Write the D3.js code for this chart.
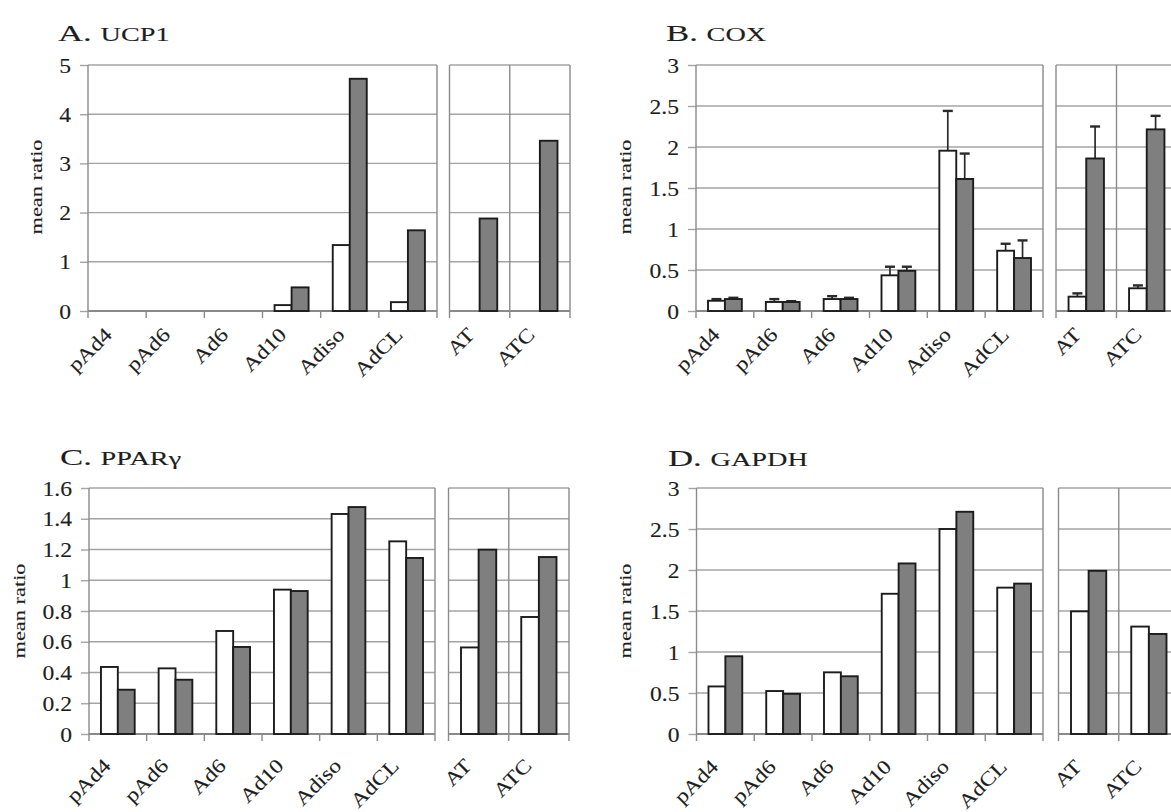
<!DOCTYPE html>
<html>
<head>
<meta charset="utf-8">
<script src="https://cdn.jsdelivr.net/npm/d3@7"></script>
<style>
  html, body { margin: 0; padding: 0; background: #fff; }
  svg { display: block; }
  text { font-family: "Liberation Serif", "Times New Roman", serif; fill: #1e1e1e; stroke: #1e1e1e; stroke-width: 0.12px; }
</style>
</head>
<body>
<svg id="chart" width="1171" height="812"></svg>
<script>
// Culture stages (left block) and tissue samples (right block)
const stageCategories = ["pAd4", "pAd6", "Ad6", "Ad10", "Adiso", "AdCL"];
const tissueCategories = ["AT", "ATC"];
const seriesKeys = ["open", "filled"];

// A. UCP1
const ucp1Open = [0, 0, 0, 0.12, 1.34, 0.18];
const ucp1Filled = [0, 0, 0, 0.48, 4.72, 1.64];
const ucp1TissueOpen = [0, 0];
const ucp1TissueFilled = [1.88, 3.46];
const ucp1Ticks = [0, 1, 2, 3, 4, 5];

// B. COX (mean with upper error)
const coxOpen = [0.125, 0.11, 0.146, 0.435, 1.955, 0.735];
const coxOpenErr = [0.02, 0.035, 0.035, 0.105, 0.485, 0.085];
const coxFilled = [0.146, 0.11, 0.146, 0.49, 1.61, 0.646];
const coxFilledErr = [0.015, 0.01, 0.015, 0.05, 0.31, 0.215];
const coxTissueOpen = [0.175, 0.277];
const coxTissueOpenErr = [0.04, 0.035];
const coxTissueFilled = [1.86, 2.215];
const coxTissueFilledErr = [0.39, 0.165];
const coxTicks = [0, 0.5, 1, 1.5, 2, 2.5, 3];

// C. PPARγ
const pparOpen = [0.436, 0.427, 0.67, 0.939, 1.431, 1.253];
const pparFilled = [0.288, 0.353, 0.566, 0.93, 1.476, 1.145];
const pparTissueOpen = [0.563, 0.761];
const pparTissueFilled = [1.199, 1.151];
const pparTicks = [0, 0.2, 0.4, 0.6, 0.8, 1, 1.2, 1.4, 1.6];

// D. GAPDH
const gapdhOpen = [0.58, 0.524, 0.752, 1.71, 2.5, 1.785];
const gapdhFilled = [0.948, 0.49, 0.704, 2.08, 2.71, 1.834];
const gapdhTissueOpen = [1.496, 1.31];
const gapdhTissueFilled = [1.99, 1.22];
const gapdhTicks = [0, 0.5, 1, 1.5, 2, 2.5, 3];

const panels = [
  { letter: "A.", gene: "UCP1", ticks: ucp1Ticks,
    open: ucp1Open, filled: ucp1Filled, tOpen: ucp1TissueOpen, tFilled: ucp1TissueFilled,
    box: { x0: 88, x1: 437, sx0: 449.5, sx1: 570, top: 65, base: 311 },
    title: { x: 58, y: 41 }, ylab: { x: 38, y: 187 }, lab: { dx: -4, dy: 25 } },
  { letter: "B.", gene: "COX", ticks: coxTicks,
    open: coxOpen, filled: coxFilled, tOpen: coxTissueOpen, tFilled: coxTissueFilled,
    openErr: coxOpenErr, filledErr: coxFilledErr, tOpenErr: coxTissueOpenErr, tFilledErr: coxTissueFilledErr,
    box: { x0: 696, x1: 1043, sx0: 1056, sx1: 1177, top: 65, base: 311 },
    title: { x: 666, y: 41 }, ylab: { x: 627, y: 187 }, lab: { dx: -4, dy: 25 } },
  { letter: "C.", gene: "PPARγ", ticks: pparTicks,
    open: pparOpen, filled: pparFilled, tOpen: pparTissueOpen, tFilled: pparTissueFilled,
    box: { x0: 89, x1: 435, sx0: 448.5, sx1: 569, top: 488, base: 734 },
    title: { x: 60, y: 465 }, ylab: { x: 21, y: 611 }, lab: { dx: -6, dy: 33 } },
  { letter: "D.", gene: "GAPDH", ticks: gapdhTicks,
    open: gapdhOpen, filled: gapdhFilled, tOpen: gapdhTissueOpen, tFilled: gapdhTissueFilled,
    box: { x0: 696.5, x1: 1043, sx0: 1058.5, sx1: 1179, top: 488, base: 734 },
    title: { x: 668, y: 466 }, ylab: { x: 627, y: 611 }, lab: { dx: -6, dy: 34 } }
];

const svg = d3.select("#chart");
const gridColor = "#a4a4a4";
const axisColor = "#8a8a8a";
const barStroke = "#1c1c1c";
const fills = { open: "#ffffff", filled: "#7f7f7f" };
// the typeface is set wide: glyphs are stretched along the writing direction
const wide = 1.18;

function drawBlock(g, cats, openVals, filledVals, openErr, filledErr, xa, xb, y, ticks, isStages, lab) {
  const x = d3.scaleBand().domain(cats).range([xa, xb]).paddingInner(0).paddingOuter(0);
  const sub = d3.scaleBand().domain(seriesKeys).range([0, x.bandwidth()]).paddingInner(0).paddingOuter(0.71);
  const ymax = ticks[ticks.length - 1];

  // horizontal gridlines
  g.append("g").selectAll("line")
    .data(ticks.filter(t => t > 0))
    .join("line")
    .attr("x1", xa).attr("x2", xb)
    .attr("y1", d => y(d)).attr("y2", d => y(d))
    .attr("stroke", gridColor).attr("stroke-width", 1.4);

  // frame sides and category boundary ticks
  const bounds = cats.map(c => x(c)).concat([xb]);
  g.append("g").selectAll("line")
    .data(bounds)
    .join("line")
    .attr("x1", d => d).attr("x2", d => d)
    .attr("y1", (d, i) => (i === 0 || i === bounds.length - 1 || !isStages) ? y(ymax) : y(0))
    .attr("y2", y(0) + 7)
    .attr("stroke", axisColor).attr("stroke-width", 1.4);

  // baseline
  g.append("line")
    .attr("x1", xa).attr("x2", xb)
    .attr("y1", y(0)).attr("y2", y(0))
    .attr("stroke", axisColor).attr("stroke-width", 1.8);

  const rows = cats.map((c, i) => [
    { cat: c, key: "open", v: openVals[i], e: openErr ? openErr[i] : null },
    { cat: c, key: "filled", v: filledVals[i], e: filledErr ? filledErr[i] : null }
  ]).flat();
  const cx = d => x(d.cat) + sub(d.key) + sub.bandwidth() / 2;

  // upper error bars
  const errRows = rows.filter(d => d.e != null);
  const eg = g.append("g").attr("stroke", "#2a2a2a");
  eg.selectAll("line.stem").data(errRows).join("line").attr("class", "stem")
    .attr("x1", cx).attr("x2", cx)
    .attr("y1", d => y(d.v)).attr("y2", d => y(d.v + d.e))
    .attr("stroke-width", 1.7);
  eg.selectAll("line.cap").data(errRows).join("line").attr("class", "cap")
    .attr("x1", d => cx(d) - 5).attr("x2", d => cx(d) + 5)
    .attr("y1", d => y(d.v + d.e)).attr("y2", d => y(d.v + d.e))
    .attr("stroke-width", 2.4);

  // bars
  g.append("g").selectAll("rect")
    .data(rows.filter(d => d.v > 0))
    .join("rect")
    .attr("x", d => x(d.cat) + sub(d.key))
    .attr("width", sub.bandwidth())
    .attr("y", d => y(d.v))
    .attr("height", d => y(0) - y(d.v))
    .attr("fill", d => fills[d.key])
    .attr("stroke", barStroke).attr("stroke-width", 1.9);

  // rotated category labels
  g.append("g").selectAll("text")
    .data(cats)
    .join("text")
    .attr("text-anchor", "end")
    .attr("font-size", 20)
    .attr("transform", c => `translate(${x(c) + x.bandwidth() / 2 + lab.dx},${y(0) + lab.dy}) rotate(-45) scale(${wide},1)`)
    .text(c => c);
}

panels.forEach(p => {
  const b = p.box;
  const ymax = p.ticks[p.ticks.length - 1];
  const y = d3.scaleLinear().domain([0, ymax]).range([b.base, b.top]);
  const g = svg.append("g");

  // title: panel letter with the gene name set smaller
  const t = g.append("text")
    .attr("transform", `translate(${p.title.x},${p.title.y}) scale(1.45,1)`)
    .attr("font-size", 24);
  t.append("tspan").text(p.letter + " ");
  t.append("tspan").attr("font-size", 19.5).text(p.gene);

  // y axis: outward ticks and right-aligned labels
  const yAxis = d3.axisLeft(y).tickValues(p.ticks).tickSize(8).tickFormat("");
  const ya = g.append("g").attr("transform", `translate(${b.x0},0)`).call(yAxis);
  ya.select(".domain").remove();
  ya.selectAll(".tick line").attr("stroke", gridColor).attr("stroke-width", 1.4);
  ya.selectAll(".tick").append("text")
    .attr("text-anchor", "end")
    .attr("font-size", 20)
    .attr("transform", `translate(-17,7) scale(${wide},1)`)
    .text(d => String(+d.toFixed(2)));

  // y axis title
  g.append("text")
    .attr("transform", `translate(${p.ylab.x},${p.ylab.y}) rotate(-90) scale(1.28,1)`)
    .attr("text-anchor", "middle").attr("dominant-baseline", "middle")
    .attr("font-size", 17.5)
    .text("mean ratio");

  drawBlock(g, stageCategories, p.open, p.filled, p.openErr, p.filledErr, b.x0, b.x1, y, p.ticks, true, p.lab);
  drawBlock(g, tissueCategories, p.tOpen, p.tFilled, p.tOpenErr, p.tFilledErr, b.sx0, b.sx1, y, p.ticks, false, p.lab);
});
</script>
</body>
</html>
